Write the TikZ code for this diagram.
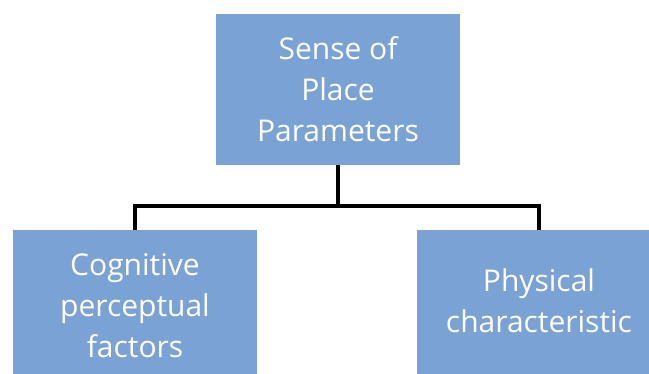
\documentclass[tikz,border=0pt]{standalone}
\usepackage{fontspec}
\setmainfont{Open Sans}
\definecolor{boxblue}{HTML}{7AA2D4}
\begin{document}
\begin{tikzpicture}[x=1pt,y=-1pt,
  box/.style={draw=none,fill=boxblue,minimum width=244pt,minimum height=151pt,
    align=center,text=white,inner sep=0pt,
    font=\fontsize{30}{41}\selectfont},
  conn/.style={draw=black,line width=3.2pt}]
\clip (0,0) rectangle (649,374);
\fill[white] (0,0) rectangle (649,374);
\node[box] (top) at (338,89.5) {Sense of\\Place\\Parameters};
\node[box] (left) at (135,305.5) {Cognitive\\perceptual\\factors};
\node[box] (right) at (539,305.5) {Physical\\characteristic\\[-44pt]\strut};
\coordinate (j) at (338,206);
\draw[conn] (top.south) -- (j);
\draw[conn] (j) -| (left.north);
\draw[conn] (j) -| (right.north);
\end{tikzpicture}
\end{document}
